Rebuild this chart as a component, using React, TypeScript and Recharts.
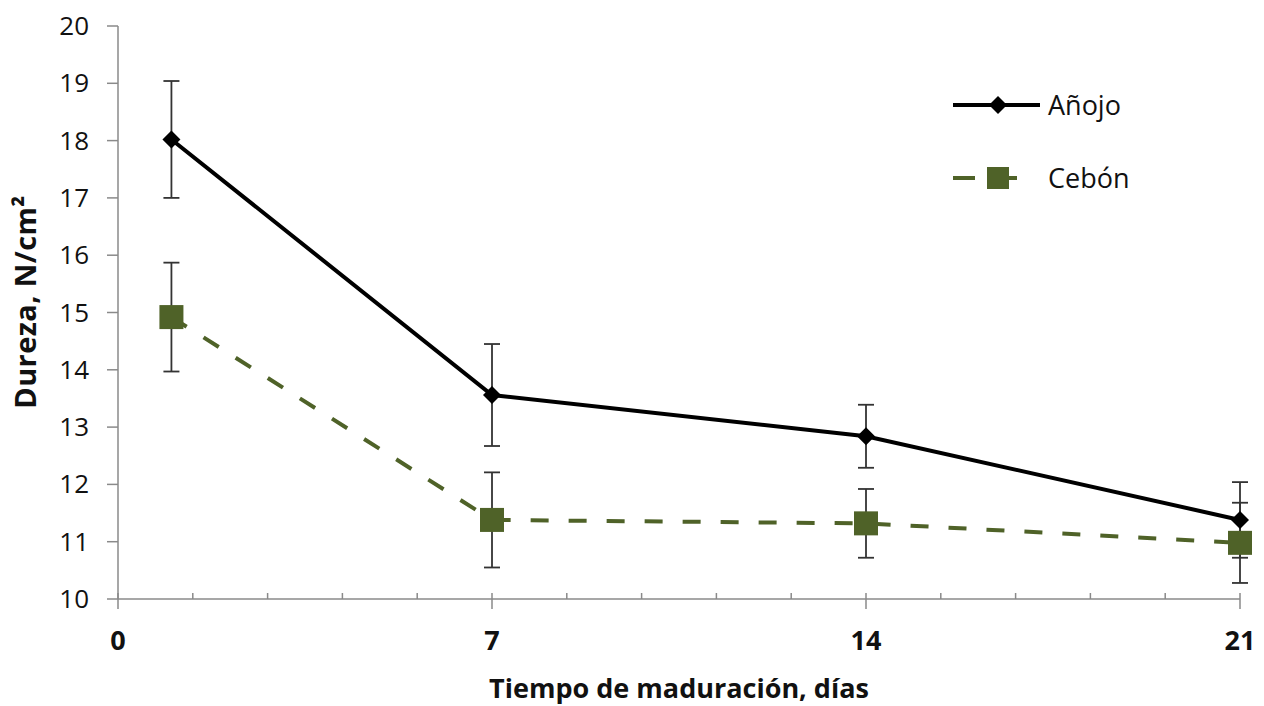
import { LineChart, Line, XAxis, YAxis, ErrorBar } from "recharts";

const days = [1, 7, 14, 21];
const anojo = [18.02, 13.56, 12.84, 11.38];
const anojoErr = [1.02, 0.89, 0.55, 0.66];
const cebon = [14.92, 11.38, 11.32, 10.98];
const cebonErr = [0.95, 0.83, 0.6, 0.7];

const majorTicks = [0, 7, 14, 21];
const minorTicks = [1.4, 2.8, 4.2, 5.6, 8.4, 9.8, 11.2, 12.6, 15.4, 16.8, 18.2, 19.6];
const yTicks = [10, 11, 12, 13, 14, 15, 16, 17, 18, 19, 20];

const data = days.map((day, i) => ({
  day,
  anojo: anojo[i],
  anojoErr: anojoErr[i],
  cebon: cebon[i],
  cebonErr: cebonErr[i],
}));

const FONT = "'Open Sans', 'DejaVu Sans', sans-serif";
const AXIS = "#8a8a8a";
const GREEN = "#4f6228";
const TEXT = "#111";

const xTicks = [...majorTicks, ...minorTicks].sort((a, b) => a - b);

function XTick(props: any) {
  const { x, y, payload } = props;
  const major = majorTicks.includes(payload.value);
  if (!major) {
    return <line x1={x} x2={x} y1={y} y2={y - 6} stroke={AXIS} strokeWidth={1.5} />;
  }
  return (
    <g>
      <line x1={x} x2={x} y1={y - 6} y2={y + 10} stroke={AXIS} strokeWidth={1.5} />
      <text
        x={x}
        y={y + 51}
        textAnchor="middle"
        fontFamily={FONT}
        fontSize={27}
        fontWeight={700}
        fill={TEXT}
      >
        {payload.value}
      </text>
    </g>
  );
}

function YTick(props: any) {
  const { x, y, payload } = props;
  return (
    <g>
      <line x1={x - 11} x2={x} y1={y} y2={y} stroke={AXIS} strokeWidth={1.5} />
      <text
        x={x - 29}
        y={y + 9}
        textAnchor="end"
        fontFamily={FONT}
        fontSize={26}
        fontWeight={500}
        fill={TEXT}
      >
        {payload.value}
      </text>
    </g>
  );
}

function Diamond(props: any) {
  const { cx, cy } = props;
  if (cx == null || cy == null) return null;
  const r = 9;
  return (
    <path
      d={`M${cx},${cy - r} L${cx + r},${cy} L${cx},${cy + r} L${cx - r},${cy} Z`}
      fill="#000"
    />
  );
}

function Square(props: any) {
  const { cx, cy } = props;
  if (cx == null || cy == null) return null;
  const s = 24;
  return <rect x={cx - s / 2} y={cy - s / 2} width={s} height={s} fill={GREEN} />;
}

// legend drawn as an overlay so it doesn't shrink the plot area
function LegendBox() {
  return (
    <svg width={240} height={140} style={{ position: "absolute", left: 950, top: 74 }}>
      <line x1={3} x2={90} y1={31} y2={31} stroke="#000" strokeWidth={4} />
      <path d="M48,22 L57,31 L48,40 L39,31 Z" fill="#000" />
      <text x={98} y={41} fontFamily={FONT} fontSize={27} fill={TEXT}>
        Añojo
      </text>
      <line x1={3} x2={25} y1={104} y2={104} stroke={GREEN} strokeWidth={4} />
      <rect x={37} y={93} width={22} height={22} fill={GREEN} />
      <line x1={57} x2={67} y1={104} y2={104} stroke={GREEN} strokeWidth={4} />
      <text x={98} y={114} fontFamily={FONT} fontSize={27} fill={TEXT}>
        Cebón
      </text>
    </svg>
  );
}

export default function App() {
  return (
    <div style={{ position: "absolute", left: 0, top: 0, width: 1264, height: 706, background: "#fff" }}>
      <LineChart
        width={1264}
        height={706}
        data={data}
        margin={{ top: 26, right: 24, bottom: 0, left: 0 }}
      >
        <XAxis
          dataKey="day"
          type="number"
          domain={[0, 21]}
          ticks={xTicks}
          interval={0}
          height={107}
          tickSize={0}
          tickMargin={0}
          tickLine={false}
          tick={<XTick />}
          axisLine={{ stroke: AXIS, strokeWidth: 1.5 }}
          label={{
            value: "Tiempo de maduración, días",
            position: "insideBottom",
            offset: 8,
            style: { fontFamily: FONT, fontSize: 27, fontWeight: 700, fill: TEXT },
          }}
        />
        <YAxis
          type="number"
          domain={[10, 20]}
          ticks={yTicks}
          interval={0}
          width={118}
          tickSize={0}
          tickMargin={0}
          tickLine={false}
          tick={<YTick />}
          axisLine={{ stroke: AXIS, strokeWidth: 1.5 }}
          label={{
            content: () => (
              <text
                transform="translate(36,302) rotate(-90)"
                textAnchor="middle"
                fontFamily={FONT}
                fontSize={29}
                fontWeight={700}
                letterSpacing={0.4}
                fill={TEXT}
              >
                Dureza, N/cm²
              </text>
            ),
          }}
        />
        <Line
          type="linear"
          dataKey="anojo"
          stroke="#000"
          strokeWidth={4}
          dot={<Diamond />}
          activeDot={false}
          isAnimationActive={false}
        >
          <ErrorBar dataKey="anojoErr" direction="y" width={8} stroke="#333" strokeWidth={1.8} />
        </Line>
        <Line
          type="linear"
          dataKey="cebon"
          stroke={GREEN}
          strokeWidth={4}
          strokeDasharray="18 20"
          dot={<Square />}
          activeDot={false}
          isAnimationActive={false}
        >
          <ErrorBar dataKey="cebonErr" direction="y" width={8} stroke="#333" strokeWidth={1.8} />
        </Line>
      </LineChart>
      <LegendBox />
    </div>
  );
}
